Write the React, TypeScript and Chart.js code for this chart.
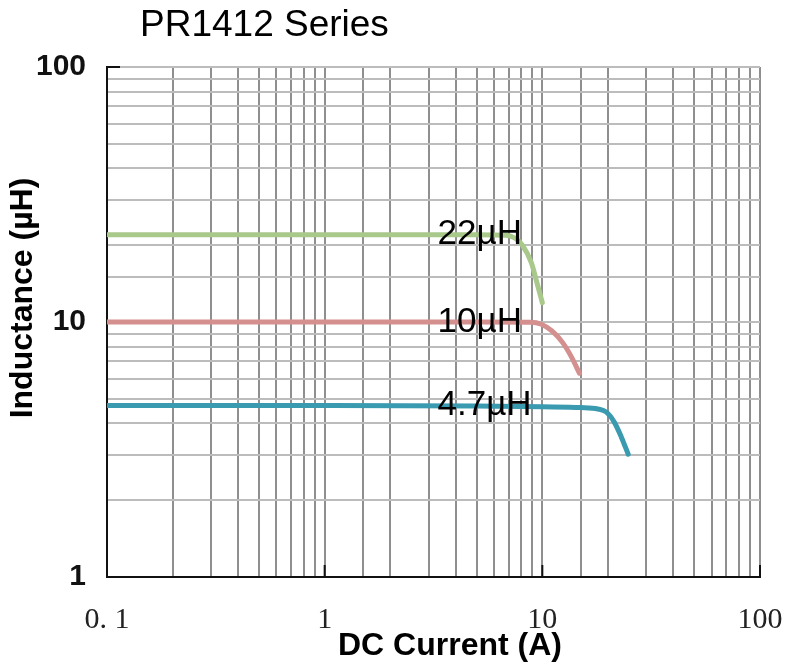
import React, { useEffect, useRef } from "react";
import { Chart, registerables } from "chart.js";

Chart.register(...registerables);

const chartTitle = "PR1412 Series";
const xAxisTitle = "DC Current (A)";
const yAxisTitle = "Inductance (µH)";

const xTickValues = [0.1, 1, 10, 100];
const xTickLabels = ["0. 1", "1", "10", "100"];
const yTickValues = [1, 10, 100];
const yTickLabels = ["1", "10", "100"];

const seriesNames = ["22µH", "10µH", "4.7µH"];
const seriesColors = ["#a9c98b", "#d48f8f", "#3a9ab0"];

const current22 = [0.1, 1, 5, 6.8, 7.5, 8.1, 8.9, 9.5, 10.0];
const induct22 = [22, 22, 22, 21.9, 21.3, 20.0, 17.1, 14.0, 11.9];

const current10 = [0.1, 1, 5, 8.8, 9.9, 11.1, 12.4, 13.6, 14.8];
const induct10 = [10, 10, 10, 9.98, 9.8, 9.2, 8.3, 7.3, 6.3];

const current47 = [0.1, 1, 5, 10, 15, 18.0, 19.7, 21.4, 23.0, 24.8];
const induct47 = [4.7, 4.7, 4.68, 4.65, 4.62, 4.56, 4.43, 4.05, 3.56, 3.03];

const labelXValue = 3.3;

const toPoints = (xs: number[], ys: number[]) => xs.map((x, i) => ({ x, y: ys[i] }));

export default function App() {
  const canvasRef = useRef<HTMLCanvasElement | null>(null);

  useEffect(() => {
    const canvas = canvasRef.current;
    if (!canvas) return;

    const decorPlugin = {
      id: "decor",
      afterDatasetsDraw(chart: any) {
        const ctx = chart.ctx;
        const xs = chart.scales.x;
        const ys = chart.scales.y;
        const area = chart.chartArea;
        ctx.save();
        ctx.strokeStyle = "#111";
        ctx.lineWidth = 2;
        [1, 10, 100].forEach((v) => {
          const px = xs.getPixelForValue(v);
          ctx.beginPath();
          ctx.moveTo(px, area.bottom);
          ctx.lineTo(px, area.bottom - 12);
          ctx.stroke();
        });
        [100].forEach((v) => {
          const py = ys.getPixelForValue(v);
          ctx.beginPath();
          ctx.moveTo(area.left, py);
          ctx.lineTo(area.left + 13, py);
          ctx.stroke();
        });
        ctx.fillStyle = "#000";
        ctx.font = "35px 'Liberation Sans', Arial, sans-serif";
        ctx.textAlign = "left";
        ctx.textBaseline = "middle";
        const firstY = [induct22[0], induct10[0], induct47[0]];
        seriesNames.forEach((name, i) => {
          ctx.fillText(name, xs.getPixelForValue(labelXValue), ys.getPixelForValue(firstY[i]));
        });
        ctx.font = "37px 'Liberation Sans', Arial, sans-serif";
        ctx.fillText(chartTitle, 140, 26);
        ctx.font = "bold 32px 'Liberation Sans', Arial, sans-serif";
        ctx.textAlign = "center";
        ctx.fillText(xAxisTitle, 450, 646);
        ctx.save();
        ctx.translate(23, 298);
        ctx.rotate(-Math.PI / 2);
        ctx.fillText(yAxisTitle, 0, 0);
        ctx.restore();
        ctx.restore();
      },
    };

    const chart = new Chart(canvas, {
      type: "line",
      data: {
        datasets: [
          { label: seriesNames[0], data: toPoints(current22, induct22), borderColor: seriesColors[0] },
          { label: seriesNames[1], data: toPoints(current10, induct10), borderColor: seriesColors[1] },
          { label: seriesNames[2], data: toPoints(current47, induct47), borderColor: seriesColors[2] },
        ].map((d) => ({
          ...d,
          borderWidth: 5,
          pointRadius: 0,
          fill: false,
          cubicInterpolationMode: "monotone" as const,
          borderCapStyle: "round" as const,
        })),
      },
      options: {
        animation: false,
        responsive: false,
        maintainAspectRatio: false,
        layout: { padding: { top: 67, right: 25, left: 0, bottom: 0 } },
        plugins: { legend: { display: false }, tooltip: { enabled: false }, title: { display: false } },
        scales: {
          x: {
            type: "logarithmic",
            min: 0.1,
            max: 100,
            afterFit: (s: any) => {
              s.height = 87;
              s.paddingLeft = 0;
              s.paddingRight = 0;
            },
            ticks: {
              autoSkip: false,
              maxRotation: 0,
              padding: 25,
              color: "#222",
              font: { family: "'Liberation Serif', 'Times New Roman', serif", size: 30 },
              callback: (v: any) => {
                const i = xTickValues.findIndex((t) => Math.abs(t - Number(v)) < 1e-9);
                return i >= 0 ? xTickLabels[i] : "";
              },
            },
            grid: { color: "#8f8f8f", lineWidth: 2, drawTicks: false },
            border: { color: "#111", width: 2 },
          },
          y: {
            type: "logarithmic",
            min: 1,
            max: 100,
            afterFit: (s: any) => {
              s.width = 107;
              s.paddingTop = 0;
              s.paddingBottom = 0;
            },
            ticks: {
              autoSkip: false,
              padding: 21,
              color: "#111",
              font: { family: "'Liberation Sans', Arial, sans-serif", size: 30, weight: "bold" },
              callback: (v: any) => {
                const i = yTickValues.findIndex((t) => Math.abs(t - Number(v)) < 1e-9);
                return i >= 0 ? yTickLabels[i] : "";
              },
            },
            grid: { color: "#bcbcbc", lineWidth: 2, drawTicks: false },
            border: { color: "#111", width: 2 },
          },
        },
      },
      plugins: [decorPlugin],
    });

    return () => chart.destroy();
  }, []);

  return (
    <div style={{ position: "fixed", left: 0, top: 0, width: 785, height: 664, background: "#fff" }}>
      <canvas ref={canvasRef} width={785} height={664} style={{ display: "block" }} />
    </div>
  );
}
